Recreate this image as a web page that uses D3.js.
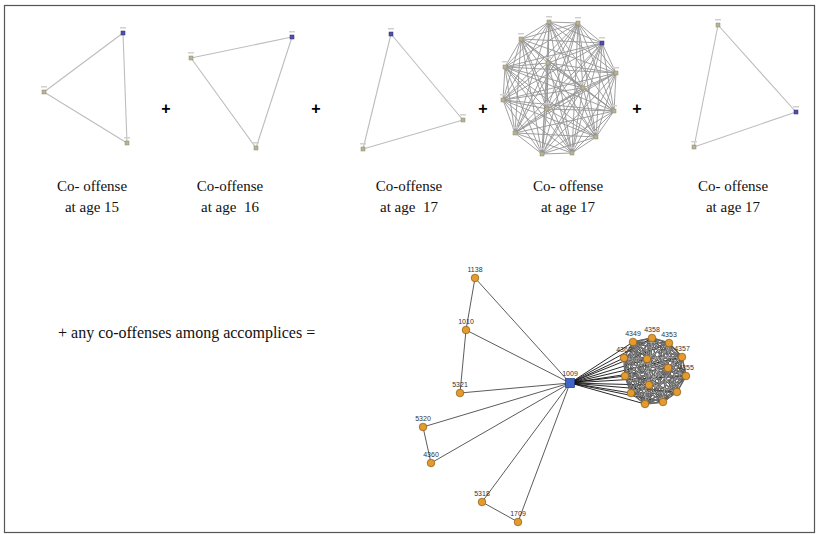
<!DOCTYPE html>
<html lang="en">
<head>
    <meta charset="UTF-8">
    <title>Co-offense networks</title>
    <script src="https://d3js.org/d3.v7.min.js"></script>
    <style>
        body { margin: 0; background: #fff; }
        .cap { font-family: "Liberation Serif", "Times New Roman", serif; font-size: 15px; fill: #111; white-space: pre; }
        .plus { font-family: "Liberation Sans", Arial, sans-serif; font-size: 16px; font-weight: bold; fill: #000; }
        .nlab { font-family: "Liberation Sans", Arial, sans-serif; font-size: 7px; fill: #333; }
    </style>
</head>
<body>
<div id="chart"></div>
<script>
    // captions under the five ego networks
    var captionTop = ["Co- offense", "Co-offense", "Co-offense", "Co- offense", "Co- offense"];
    var captionBottom = ["at age 15", "at age  16", "at age  17", "at age 17", "at age 17"];

    // node layouts for each ego network (layout units inside a panel), ego flagged
    var egoNodes = [
        [{x: 93, y: 18, ego: true}, {x: 14, y: 77}, {x: 97, y: 128}],
        [{x: 11, y: 43}, {x: 112, y: 22, ego: true}, {x: 76, y: 133}],
        [{x: 41, y: 19, ego: true}, {x: 113, y: 105}, {x: 13, y: 134}],
        [{x: 54, y: 7}, {x: 83, y: 8}, {x: 26, y: 24}, {x: 107, y: 28, ego: true},
         {x: 53, y: 48}, {x: 10, y: 52}, {x: 121, y: 58}, {x: 88, y: 73},
         {x: 8, y: 85}, {x: 52, y: 94}, {x: 119, y: 96}, {x: 20, y: 118},
         {x: 101, y: 122}, {x: 47, y: 139}, {x: 77, y: 138}],
        [{x: 33, y: 10}, {x: 111, y: 97, ego: true}, {x: 9, y: 132}]
    ];

    // combined network: hub, accomplices and the dense group
    var hub = {id: "1009", x: 170, y: 123};
    var accomplices = [
        {id: "1138", x: 75, y: 18}, {id: "1010", x: 66, y: 70}, {id: "5321", x: 60, y: 133},
        {id: "5320", x: 23, y: 167}, {id: "4360", x: 31, y: 203},
        {id: "5318", x: 82, y: 242}, {id: "1709", x: 118, y: 262}
    ];
    var accompliceLinks = [["1138", "1010"], ["1010", "5321"], ["5320", "4360"], ["5318", "1709"]];
    var group = [
        {id: "4349", x: 233, y: 82}, {id: "4358", x: 252, y: 78}, {id: "4353", x: 269, y: 83},
        {id: "4362", x: 224, y: 98}, {id: "", x: 247, y: 99}, {id: "4357", x: 282, y: 97},
        {id: "", x: 225, y: 116}, {id: "", x: 268, y: 108}, {id: "4355", x: 286, y: 116},
        {id: "", x: 249, y: 125}, {id: "", x: 231, y: 133}, {id: "", x: 277, y: 132},
        {id: "", x: 245, y: 144}, {id: "", x: 263, y: 142}
    ];

    var width = 817, height = 534;
    var svg = d3.select("#chart").append("svg")
        .attr("width", width)
        .attr("height", height);

    svg.append("rect")
        .attr("x", 4.5).attr("y", 5.5)
        .attr("width", 810).attr("height", 527)
        .attr("fill", "none").attr("stroke", "#555").attr("stroke-width", 1.2);

    // panel placement
    var panelX = [30, 180, 350, 495, 685];
    var captionX = [92, 230, 409, 568, 733];
    var plusX = [166, 316, 483, 637];

    egoNodes.forEach(function(nodes, i) {
        var sx = d3.scaleLinear().domain([0, 100]).range([panelX[i], panelX[i] + 100]);
        var sy = d3.scaleLinear().domain([0, 100]).range([15, 115]);
        var g = svg.append("g");
        var dense = nodes.length > 3;
        var pairs = [];
        for (var a = 0; a < nodes.length; a++)
            for (var b = a + 1; b < nodes.length; b++) pairs.push([nodes[a], nodes[b]]);

        g.selectAll("line").data(pairs).enter().append("line")
            .attr("x1", d => sx(d[0].x)).attr("y1", d => sy(d[0].y))
            .attr("x2", d => sx(d[1].x)).attr("y2", d => sy(d[1].y))
            .attr("stroke", dense ? "#959595" : "#bdbdbd")
            .attr("stroke-width", dense ? 0.9 : 1.1);

        // tiny label stubs over the nodes
        g.selectAll(".stub").data(nodes).enter().append("rect")
            .attr("x", d => sx(d.x) - 3).attr("y", d => sy(d.y) - 6)
            .attr("width", 6).attr("height", 1.5)
            .attr("fill", "#d0d0d0");

        g.selectAll(".node").data(nodes).enter().append("rect")
            .attr("x", d => sx(d.x) - 2).attr("y", d => sy(d.y) - 2)
            .attr("width", 4).attr("height", 4)
            .attr("fill", d => d.ego ? "#5050aa" : "#bab393")
            .attr("stroke", d => d.ego ? "#2c2c70" : "#8d876c")
            .attr("stroke-width", 0.5);

        svg.append("text").attr("class", "cap")
            .attr("x", captionX[i]).attr("y", 191)
            .attr("text-anchor", "middle").text(captionTop[i]);
        svg.append("text").attr("class", "cap")
            .attr("x", captionX[i]).attr("y", 212)
            .attr("text-anchor", "middle").text(captionBottom[i]);

        if (i < plusX.length) {
            svg.append("text").attr("class", "plus")
                .attr("x", plusX[i]).attr("y", 114)
                .attr("text-anchor", "middle").text("+");
        }
    });

    svg.append("text").attr("class", "cap")
        .attr("x", 58).attr("y", 338)
        .style("font-size", "16px")
        .text("+ any co-offenses among accomplices =");

    // combined network
    var bx = d3.scaleLinear().domain([0, 100]).range([400, 500]);
    var by = d3.scaleLinear().domain([0, 100]).range([260, 360]);
    var byId = {};
    accomplices.concat(group).concat([hub]).forEach(d => { if (d.id) byId[d.id] = d; });
    var net = svg.append("g");

    var groupPairs = [];
    for (var a = 0; a < group.length; a++)
        for (var b = a + 1; b < group.length; b++) groupPairs.push([group[a], group[b]]);

    net.selectAll(".accspoke").data(accomplices).enter().append("line")
        .attr("x1", bx(hub.x)).attr("y1", by(hub.y))
        .attr("x2", d => bx(d.x)).attr("y2", d => by(d.y))
        .attr("stroke", "#4a4a4a").attr("stroke-width", 0.9);

    net.selectAll(".grpspoke").data(group).enter().append("line")
        .attr("x1", bx(hub.x)).attr("y1", by(hub.y))
        .attr("x2", d => bx(d.x)).attr("y2", d => by(d.y))
        .attr("stroke", "#111").attr("stroke-width", 0.9);

    net.selectAll(".accline").data(accompliceLinks).enter().append("line")
        .attr("x1", d => bx(byId[d[0]].x)).attr("y1", d => by(byId[d[0]].y))
        .attr("x2", d => bx(byId[d[1]].x)).attr("y2", d => by(byId[d[1]].y))
        .attr("stroke", "#4a4a4a").attr("stroke-width", 0.9);

    net.selectAll(".grpline").data(groupPairs).enter().append("line")
        .attr("x1", d => bx(d[0].x)).attr("y1", d => by(d[0].y))
        .attr("x2", d => bx(d[1].x)).attr("y2", d => by(d[1].y))
        .attr("stroke", "#222").attr("stroke-width", 1.4);
    net.selectAll(".grpline2").data(groupPairs).enter().append("line")
        .attr("x1", d => bx(d[0].x)).attr("y1", d => by(d[0].y))
        .attr("x2", d => bx(d[1].x)).attr("y2", d => by(d[1].y))
        .attr("stroke", "#d8d8d8").attr("stroke-width", 0.45);

    net.selectAll(".lab").data(accomplices.concat(group).filter(d => d.id)).enter().append("text")
        .attr("class", "nlab")
        .attr("x", d => bx(d.x)).attr("y", d => by(d.y) - 6)
        .attr("text-anchor", "middle").text(d => d.id);

    net.selectAll("circle").data(accomplices.concat(group)).enter().append("circle")
        .attr("cx", d => bx(d.x)).attr("cy", d => by(d.y))
        .attr("r", 3.8)
        .attr("fill", "#e39a2e").attr("stroke", "#8a5a12").attr("stroke-width", 0.7);

    net.append("rect")
        .attr("x", bx(hub.x) - 4.5).attr("y", by(hub.y) - 4.5)
        .attr("width", 9).attr("height", 9)
        .attr("fill", "#3e66c6").attr("stroke", "#1f3b80").attr("stroke-width", 0.7);
    net.append("text").attr("class", "nlab")
        .attr("x", bx(hub.x)).attr("y", by(hub.y) - 7)
        .attr("text-anchor", "middle").text(hub.id);
</script>
</body>
</html>
